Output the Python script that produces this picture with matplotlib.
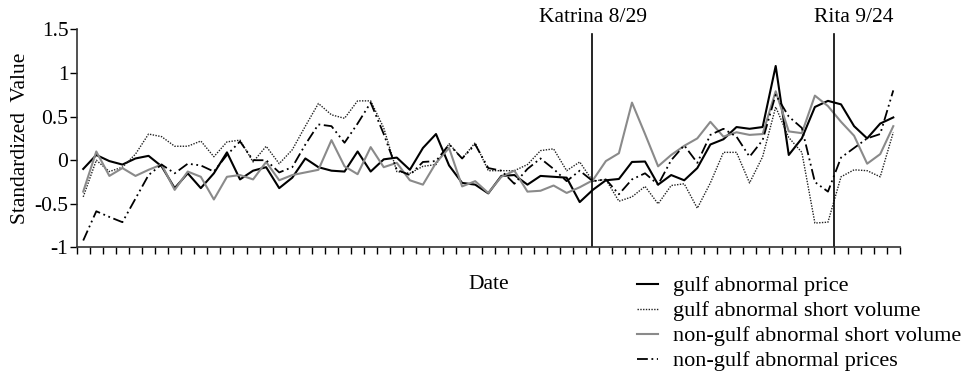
import numpy as np
import matplotlib
matplotlib.use("Agg")
import matplotlib.pyplot as plt

plt.rcParams["font.family"] = ["Liberation Serif", "DejaVu Serif"]

# values, one per trading day
gulf_price = [-0.10, 0.06, -0.01, -0.05, 0.02, 0.05, -0.07, -0.32, -0.15, -0.32,
              -0.15, 0.09, -0.22, -0.12, -0.08, -0.32, -0.20, 0.02, -0.08, -0.12,
              -0.13, 0.10, -0.13, 0.01, 0.03, -0.11, 0.14, 0.30, -0.06, -0.26,
              -0.28, -0.38, -0.18, -0.17, -0.28, -0.18, -0.19, -0.20, -0.48, -0.34,
              -0.23, -0.215, -0.02, -0.015, -0.28, -0.17, -0.23, -0.09, 0.18, 0.24,
              0.38, 0.36, 0.38, 1.08, 0.06, 0.25, 0.61, 0.68, 0.64, 0.39,
              0.25, 0.42, 0.49]
gulf_short = [-0.42, 0.00, -0.13, -0.08, 0.07, 0.30, 0.27, 0.16, 0.16, 0.22,
              0.04, 0.21, 0.23, -0.02, 0.16, -0.04, 0.12, 0.39, 0.65, 0.52,
              0.48, 0.68, 0.68, 0.37, -0.13, -0.15, -0.07, -0.05, 0.19, 0.02,
              0.20, -0.12, -0.12, -0.12, -0.05, 0.11, 0.13, -0.12, -0.02, -0.24,
              -0.22, -0.47, -0.42, -0.30, -0.50, -0.29, -0.27, -0.55, -0.26, 0.09,
              0.09, -0.26, 0.04, 0.61, 0.26, 0.09, -0.72, -0.71, -0.19, -0.11,
              -0.12, -0.19, 0.32]
nongulf_short = [-0.36, 0.10, -0.18, -0.09, -0.18, -0.11, -0.05, -0.34, -0.13, -0.19,
                 -0.45, -0.19, -0.17, -0.22, -0.02, -0.23, -0.17, -0.14, -0.11, 0.23,
                 -0.07, -0.16, 0.15, -0.08, -0.03, -0.23, -0.28, -0.03, 0.14, -0.30,
                 -0.24, -0.375, -0.19, -0.12, -0.36, -0.35, -0.29, -0.375, -0.31, -0.23,
                 -0.01, 0.08, 0.66, 0.30, -0.07, 0.06, 0.165, 0.25, 0.44, 0.27,
                 0.32, 0.29, 0.30, 0.79, 0.33, 0.31, 0.74, 0.62, 0.44, 0.28,
                 -0.04, 0.07, 0.39]
nongulf_price = [-0.92, -0.585, -0.65, -0.71, -0.44, -0.17, -0.05, -0.15, -0.04, -0.06,
                 -0.13, 0.06, 0.215, 0.00, 0.00, -0.14, -0.08, 0.18, 0.41, 0.39,
                 0.20, 0.42, 0.66, 0.30, -0.11, -0.17, -0.02, -0.01, 0.18, 0.02,
                 0.18, -0.09, -0.12, -0.27, -0.10, 0.02, -0.10, -0.24, -0.12, -0.24,
                 -0.22, -0.39, -0.22, -0.15, -0.28, 0.00, 0.17, -0.03, 0.29, 0.36,
                 0.27, 0.04, 0.23, 0.75, 0.50, 0.37, -0.25, -0.36, 0.03, 0.14,
                 0.25, 0.30, 0.80]

labels = ["gulf abnormal price", "gulf abnormal short volume",
          "non-gulf abnormal short volume", "non-gulf abnormal prices"]
events = [("Katrina 8/29", 38.95, 39.05), ("Rita 9/24", 57.5, 58.95)]

x = np.arange(len(gulf_price))

fig = plt.figure(figsize=(9.77, 3.79), dpi=100)
ax = fig.add_axes([0.0785, 0.347, 0.8425, 0.5757])

l1, = ax.plot(x, gulf_price, color="black", lw=1.5)
l2, = ax.plot(x, gulf_short, color="#222222", lw=1.0, ls=(0, (1, 1)))
l3, = ax.plot(x, nongulf_short, color="#8a8a8a", lw=1.5)
l4, = ax.plot(x, nongulf_price, color="black", lw=1.3, ls=(0, (6, 2, 1, 2, 1, 2)))

ax.set_xlim(-0.5, len(x) - 0.5)
ax.set_ylim(-1, 1.5)
ax.set_yticks([-1, -0.5, 0, 0.5, 1, 1.5])
ax.set_yticklabels(["-1", "-0.5", "0", "0.5", "1", "1.5"])
ax.set_xticks(np.arange(-0.5, len(x), 1.0))
ax.set_xticklabels([])
ax.tick_params(axis="both", direction="out", length=5, width=1, labelsize=15.5, colors="black")
ax.tick_params(axis="y", pad=1)

for side in ["top", "right"]:
    ax.spines[side].set_visible(False)
for side in ["left", "bottom"]:
    ax.spines[side].set_color("#333333")
    ax.spines[side].set_linewidth(1.2)

ax.set_ylabel("Standardized  Value", fontsize=15.5, labelpad=3)
ax.set_xlabel("Date", fontsize=15.5, labelpad=11)

for name, xl, xt in events:
    ax.axvline(xl, ymin=0, ymax=0.978, color="black", lw=1.2)
    ax.text(xt, 1.052, name, transform=ax.get_xaxis_transform(),
            ha="center", va="center", fontsize=15.5)

fig.legend([l1, l2, l3, l4], labels, loc="upper left",
           bbox_to_anchor=(0.652, 0.272), frameon=False, fontsize=16,
           handlelength=0.95, handletextpad=0.65, labelspacing=0.2,
           borderpad=0, borderaxespad=0)

fig.savefig("out.png", dpi=100)
